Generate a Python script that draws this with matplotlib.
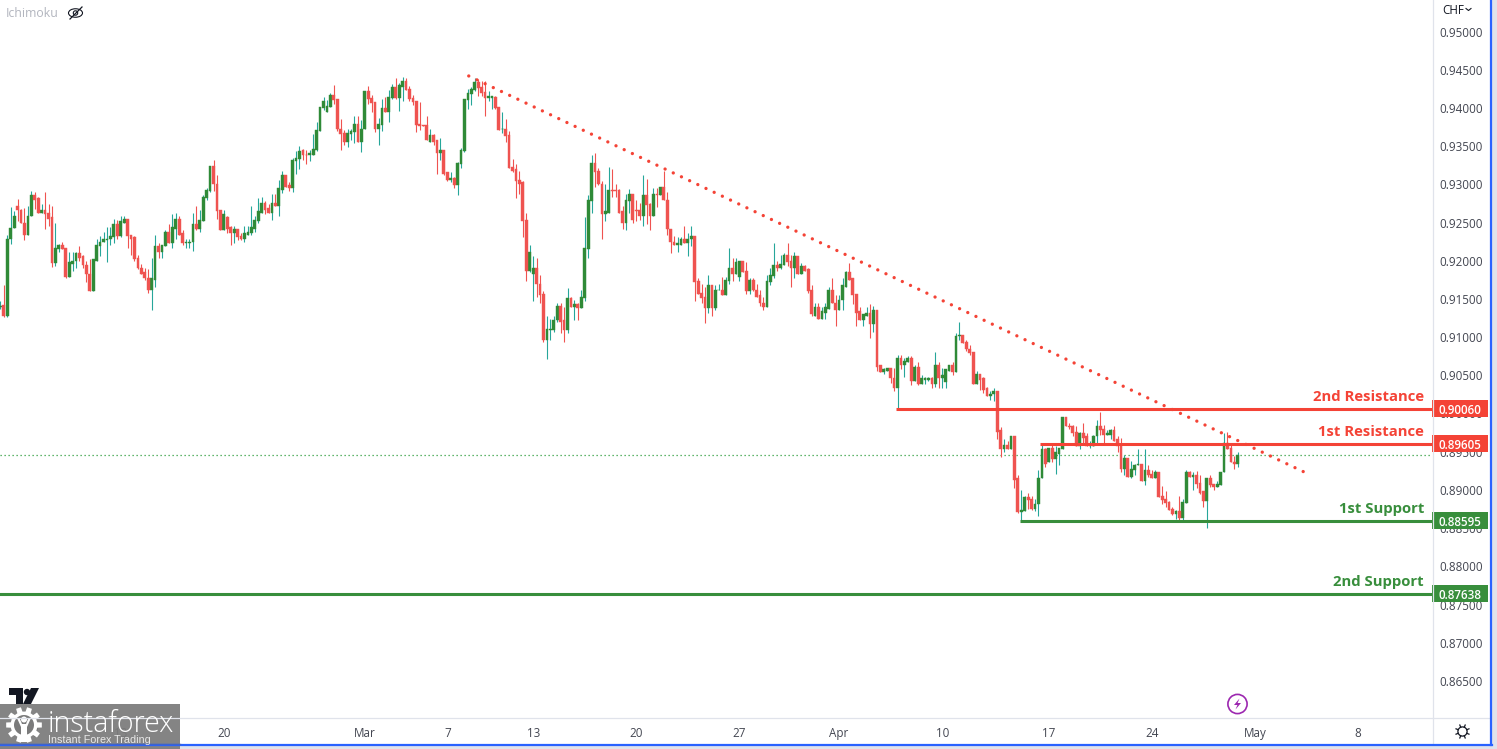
import numpy as np
import matplotlib
matplotlib.use("Agg")
import matplotlib.pyplot as plt
from matplotlib.patches import Circle, Polygon, Rectangle, Ellipse

# Candles in pips (price x 10000)
DIRECTION = ("GRGGGRRRGG" "RRGRRRGGRR" "GGGRRRRGGG" "GGGGRGGRRR" "RRRRGGRGGR" "GGRRGGGRGG" "GGRRRGRRGR" "RGGGGGGRRG"
             "RGGRRGGGRR" "GGGGGGGRRR" "RGGGRGGRRR" "GGRGGRGGRR" "RRRRRGRRGR" "RGRGGGGGGR" "RRGGRRGRRR" "RRRRGGRRRG"
             "GGGRRGRGRG" "GGGRRRGGRR" "RRGGRRRGRR" "GRGRRRRGGR" "GGRRRRGRGG" "RGGRGGRRGR" "RRRGGGRGGR" "RGRGRRRGRG"
             "GGRRGGGRRR" "RGGRGRRGGR" "RGRGGRGRGG" "GRGRGGGRGG" "RRRRGRRRGG" "RRGRGRRGGR" "RGGGRGRGGG" "RRRRGRRGGG"
             "RRGGRRRGRG" "GGRGRRGRRR" "RRGRGGRGRR" "RGRRGGGRRR" "G")
BODY_TOP = [9141,9142,9229,9243,9258,9271,9267,9250,9259,9286,
 9286,9282,9266,9266,9262,9257,9216,9221,9221,9216,
 9198,9200,9210,9210,9206,9195,9183,9202,9220,9225,
 9228,9229,9232,9248,9248,9252,9254,9254,9233,9231,
 9203,9191,9185,9178,9177,9219,9219,9220,9238,9238,
 9244,9254,9254,9236,9224,9225,9248,9248,9253,9283,
 9292,9324,9324,9301,9266,9261,9257,9244,9241,9241,
 9232,9236,9237,9244,9253,9265,9276,9276,9269,9275,
 9275,9295,9312,9312,9299,9332,9334,9343,9345,9339,
 9341,9346,9371,9401,9409,9402,9417,9417,9411,9373,
 9367,9367,9370,9379,9379,9373,9422,9422,9413,9408,
 9379,9400,9400,9414,9428,9428,9430,9435,9435,9425,
 9413,9409,9379,9377,9377,9364,9364,9358,9345,9345,
 9316,9308,9308,9328,9345,9411,9419,9425,9434,9434,
 9427,9421,9415,9415,9414,9401,9373,9373,9364,9322,
 9320,9305,9303,9253,9212,9191,9191,9170,9156,9110,
 9110,9123,9141,9141,9122,9151,9151,9143,9143,9152,
 9216,9279,9328,9328,9317,9301,9265,9292,9292,9292,
 9292,9265,9279,9287,9287,9267,9266,9286,9286,9274,
 9287,9287,9297,9297,9280,9242,9225,9223,9229,9229,
 9229,9232,9232,9173,9158,9152,9168,9168,9162,9162,
 9162,9175,9191,9191,9198,9199,9199,9186,9175,9175,
 9162,9155,9145,9173,9181,9194,9194,9196,9207,9207,
 9199,9206,9206,9193,9193,9189,9161,9139,9139,9134,
 9139,9161,9161,9145,9149,9168,9185,9185,9177,9156,
 9134,9130,9132,9132,9135,9135,9063,9058,9059,9059,
 9047,9073,9073,9069,9072,9072,9061,9061,9046,9047,
 9047,9047,9063,9063,9050,9058,9063,9063,9102,9103,
 9103,9093,9085,9080,9052,9052,9046,9033,9026,9030,
 9030,8978,8959,8959,8970,8970,8915,8874,8891,8891,
 8888,8882,8916,8954,8954,8955,8955,8949,8955,8995,
 8995,8984,8983,8976,8975,8975,8970,8959,8971,8983,
 8983,8980,8974,8978,8978,8966,8958,8942,8942,8928,
 8933,8934,8934,8926,8926,8921,8923,8923,8892,8888,
 8884,8875,8873,8873,8884,8924,8924,8920,8920,8909,
 8898,8915,8915,8908,8908,8924,8961,8961,8955,8937,8946]
BODY_BOTTOM = [9140,9127,9127,9228,9243,9266,9249,9234,9234,9259,
 9280,9263,9263,9261,9255,9197,9197,9215,9215,9179,
 9179,9196,9199,9204,9194,9182,9160,9160,9200,9219,
 9224,9227,9228,9231,9232,9232,9250,9232,9229,9202,
 9190,9183,9177,9162,9162,9175,9211,9211,9219,9223,
 9223,9242,9234,9223,9223,9223,9224,9241,9241,9252,
 9282,9291,9300,9265,9240,9240,9242,9236,9236,9231,
 9228,9228,9234,9236,9242,9252,9263,9267,9263,9263,
 9271,9271,9293,9297,9295,9295,9330,9333,9338,9338,
 9338,9339,9345,9370,9400,9394,9401,9410,9372,9366,
 9356,9356,9366,9368,9355,9355,9372,9411,9406,9373,
 9373,9377,9394,9394,9413,9413,9413,9428,9423,9411,
 9408,9377,9376,9376,9358,9356,9356,9341,9341,9314,
 9305,9305,9299,9299,9326,9343,9410,9418,9423,9426,
 9420,9413,9413,9413,9400,9371,9372,9363,9321,9318,
 9304,9301,9252,9186,9186,9182,9169,9155,9096,9096,
 9109,9109,9122,9120,9109,9109,9140,9140,9138,9138,
 9151,9215,9278,9316,9300,9261,9261,9263,9291,9291,
 9263,9250,9250,9278,9253,9265,9258,9258,9273,9259,
 9259,9286,9286,9279,9241,9224,9221,9221,9221,9223,
 9223,9228,9172,9157,9151,9138,9138,9138,9138,9161,
 9155,9155,9174,9183,9183,9179,9185,9160,9160,9161,
 9153,9144,9140,9140,9172,9180,9191,9191,9195,9198,
 9190,9190,9183,9183,9187,9160,9130,9128,9124,9124,
 9132,9137,9145,9136,9136,9148,9166,9175,9155,9132,
 9122,9122,9128,9117,9117,9061,9054,9054,9056,9046,
 9034,9034,9064,9064,9068,9043,9043,9039,9039,9044,
 9044,9038,9038,9047,9047,9041,9056,9054,9054,9101,
 9092,9084,9079,9039,9039,9044,9031,9023,9023,9025,
 8976,8953,8953,8953,8953,8913,8871,8871,8873,8887,
 8875,8875,8881,8915,8934,8937,8940,8940,8947,8954,
 8983,8982,8975,8958,8958,8968,8958,8958,8958,8970,
 8979,8972,8972,8972,8964,8957,8928,8928,8917,8917,
 8926,8932,8912,8912,8920,8916,8916,8891,8887,8883,
 8874,8869,8869,8863,8863,8883,8917,8917,8908,8896,
 8886,8886,8907,8904,8904,8907,8923,8954,8936,8934,8934]
WICK_HIGH = [9147,9168,9233,9270,9265,9281,9268,9269,9272,9291,
 9290,9283,9274,9290,9274,9272,9249,9222,9224,9217,
 9212,9212,9212,9219,9207,9199,9202,9202,9229,9232,
 9238,9244,9244,9255,9253,9259,9259,9254,9234,9232,
 9207,9196,9190,9189,9204,9234,9223,9221,9240,9248,
 9261,9262,9259,9240,9228,9228,9263,9272,9266,9286,
 9295,9324,9332,9312,9266,9267,9259,9245,9245,9241,
 9236,9245,9245,9272,9259,9282,9283,9278,9274,9287,
 9287,9305,9318,9312,9303,9335,9343,9350,9346,9345,
 9345,9366,9381,9401,9414,9410,9419,9430,9411,9385,
 9371,9372,9372,9389,9389,9384,9422,9429,9417,9408,
 9387,9411,9414,9423,9431,9439,9432,9440,9439,9429,
 9417,9409,9408,9377,9389,9373,9366,9358,9360,9345,
 9316,9316,9309,9329,9347,9411,9425,9427,9439,9438,
 9435,9435,9422,9415,9415,9401,9394,9385,9370,9333,
 9326,9317,9304,9262,9220,9206,9203,9181,9160,9127,
 9124,9127,9145,9144,9139,9164,9152,9148,9144,9161,
 9257,9286,9338,9341,9321,9304,9301,9322,9320,9300,
 9294,9271,9287,9294,9287,9279,9276,9312,9307,9275,
 9295,9295,9297,9317,9290,9242,9232,9231,9231,9245,
 9236,9246,9232,9177,9170,9166,9181,9168,9168,9169,
 9179,9179,9217,9203,9203,9199,9199,9198,9178,9177,
 9169,9161,9153,9181,9190,9223,9200,9208,9210,9223,
 9207,9212,9206,9197,9194,9190,9168,9145,9145,9140,
 9145,9165,9178,9155,9155,9177,9186,9197,9177,9157,
 9139,9130,9140,9143,9141,9135,9064,9059,9059,9060,
 9059,9076,9076,9072,9075,9075,9063,9067,9050,9048,
 9048,9048,9081,9068,9060,9058,9063,9068,9105,9120,
 9103,9096,9090,9080,9056,9052,9048,9035,9030,9034,
 9030,8982,8966,8964,8971,8971,8919,8900,8892,8896,
 8892,8888,8926,8959,8955,8955,8959,8957,8955,8996,
 8995,8987,8985,8984,8976,8987,8974,8964,8972,8992,
 9002,8985,8978,8980,8983,8971,8968,8946,8942,8938,
 8934,8953,8934,8954,8933,8926,8926,8923,8905,8899,
 8886,8878,8874,8892,8888,8926,8925,8923,8925,8919,
 8899,8916,8920,8908,8912,8924,8975,8976,8962,8944,8949]
WICK_LOW = [9137,9126,9126,9222,9243,9252,9249,9227,9234,9258,
 9268,9263,9262,9242,9246,9192,9193,9211,9215,9178,
 9179,9186,9190,9199,9190,9172,9160,9160,9200,9206,
 9224,9198,9221,9223,9229,9231,9250,9217,9207,9200,
 9189,9182,9175,9158,9136,9166,9203,9203,9219,9223,
 9216,9229,9234,9221,9217,9216,9213,9240,9237,9252,
 9279,9290,9291,9254,9240,9240,9236,9220,9223,9227,
 9227,9224,9234,9234,9237,9250,9263,9261,9262,9253,
 9271,9259,9288,9297,9291,9290,9314,9320,9332,9326,
 9330,9338,9343,9370,9397,9394,9401,9405,9370,9345,
 9352,9349,9358,9354,9355,9342,9372,9405,9394,9368,
 9351,9370,9394,9381,9411,9411,9396,9409,9423,9409,
 9404,9368,9371,9376,9358,9355,9351,9313,9332,9312,
 9304,9303,9295,9286,9321,9342,9398,9404,9422,9415,
 9415,9389,9409,9398,9398,9371,9367,9355,9321,9316,
 9282,9287,9231,9174,9185,9147,9152,9144,9093,9071,
 9096,9107,9120,9105,9094,9105,9139,9122,9123,9138,
 9147,9203,9262,9297,9299,9229,9252,9262,9284,9284,
 9263,9241,9240,9263,9249,9252,9253,9245,9248,9240,
 9258,9270,9286,9279,9233,9210,9221,9212,9221,9223,
 9206,9219,9147,9157,9145,9118,9131,9127,9136,9161,
 9155,9155,9169,9173,9182,9174,9185,9157,9156,9160,
 9152,9141,9136,9140,9168,9178,9186,9189,9195,9193,
 9165,9177,9182,9182,9186,9158,9128,9127,9124,9124,
 9124,9137,9145,9115,9136,9136,9166,9175,9143,9115,
 9122,9114,9128,9099,9107,9055,9054,9052,9055,9040,
 9029,9006,9058,9048,9067,9037,9042,9037,9038,9039,
 9043,9033,9035,9034,9034,9034,9055,9051,9054,9096,
 9092,9082,9077,9038,9038,9031,9027,9023,9018,9017,
 8966,8943,8949,8953,8953,8903,8870,8860,8873,8875,
 8874,8873,8866,8915,8930,8936,8936,8921,8932,8954,
 8983,8980,8970,8958,8954,8959,8958,8955,8958,8959,
 8972,8962,8972,8967,8964,8949,8923,8920,8917,8916,
 8919,8932,8912,8907,8917,8916,8916,8891,8882,8877,
 8874,8867,8862,8861,8861,8883,8917,8900,8902,8895,
 8878,8850,8904,8900,8904,8907,8923,8954,8936,8928,8930]

# Time axis (candle number of each label)
TIME_TICKS = [11, 36, 66, 107, 131, 156, 186, 216, 245, 275, 306, 336, 366, 396]
TIME_LABELS = ["7", "13", "20", "Mar", "7", "13", "20", "27", "Apr", "10", "17", "24", "May", "8"]
PRICE_TICKS = [0.865, 0.87, 0.875, 0.88, 0.885, 0.89, 0.895, 0.90, 0.905, 0.91, 0.915, 0.92,
               0.925, 0.93, 0.935, 0.94, 0.945, 0.95]

# Drawn levels: price, first candle, label
LEVEL_PRICES = [0.90060, 0.89605, 0.88595, 0.87638]
LEVEL_STARTS = [261.7, 303.5, 297.6, 0]
LEVEL_NAMES = ["2nd Resistance", "1st Resistance", "1st Support", "2nd Support"]
LEVEL_LABEL_PRICES = [0.90125, 0.89672, 0.88655, 0.87705]
TREND_X = [137.25, 381.2]
TREND_Y = [0.94418, 0.89215]

RED = "#f44336"
GREEN = "#388e3c"
UP_BODY = "#2f8a37"
UP_WICK = "#26a69a"
DOWN = "#ef5350"
PANE = "#e0e3eb"
TEXT = "#434651"
FONT = "Open Sans"

W, H = 1497, 749
plt.rcParams["font.family"] = [FONT, "DejaVu Sans"]
fig = plt.figure(figsize=(W / 100, H / 100), dpi=100, facecolor="white")

PANE_R, PANE_B = 1432, 717
PX_PER_PRICE = 7640
ax = fig.add_axes([0, (H - PANE_B) / H, PANE_R / W, PANE_B / H])
ax.set_xlim(0.876, 417.5)
ax.set_ylim(0.95 - 685.5 / PX_PER_PRICE, 0.95 + 31.5 / PX_PER_PRICE)
for s in ax.spines.values():
    s.set_visible(False)

top = np.array(BODY_TOP) / 1e4
bot = np.array(BODY_BOTTOM) / 1e4
hi = np.array(WICK_HIGH) / 1e4
lo = np.array(WICK_LOW) / 1e4
up = np.array([c == "G" for c in DIRECTION])
x = np.arange(1, len(top) + 1)
assert len(top) == len(bot) == len(hi) == len(lo) == len(up)

ax.vlines(x[up], lo[up], hi[up], color=UP_WICK, lw=0.8, zorder=2)
ax.vlines(x[~up], lo[~up], hi[~up], color=DOWN, lw=0.8, zorder=2)
ax.bar(x[up], (top - bot)[up], bottom=bot[up], width=0.8, color=UP_BODY, edgecolor=UP_BODY, lw=0.3, zorder=3)
ax.bar(x[~up], (top - bot)[~up], bottom=bot[~up], width=0.8, color=DOWN, edgecolor=DOWN, lw=0.3, zorder=3)

# last price
ax.axhline(top[-1], color="#2e9e3f", lw=0.9, ls=(0, (1, 2.2)), zorder=1)

# levels
cols = [RED, RED, GREEN, GREEN]
for p, st, name, c, lp in zip(LEVEL_PRICES, LEVEL_STARTS, LEVEL_NAMES, cols, LEVEL_LABEL_PRICES):
    ax.plot([st, 417.5], [p, p], color=c, lw=2.2, solid_capstyle="butt", zorder=5)
    ax.text(1424 / PANE_R, lp, name, transform=ax.get_yaxis_transform(), ha="right", va="bottom",
            color=c, fontsize=10.7, fontweight="bold", zorder=6)

# trend
ax.plot(TREND_X, TREND_Y, color=RED, lw=2.4, ls=(0, (0.01, 2.706)), dash_capstyle="round", zorder=6)

# price scale
ax.set_xticks(TIME_TICKS)
ax.set_xticklabels(TIME_LABELS)
ax.yaxis.tick_right()
ax.set_yticks(PRICE_TICKS)
ax.set_yticklabels([f"{v:.5f}" for v in PRICE_TICKS])
ax.tick_params(axis="y", length=0, pad=5.2, labelsize=8.4, labelcolor=TEXT)
ax.tick_params(axis="x", length=0, pad=7, labelsize=8.4, labelcolor=TEXT)

# tags on the price scale
sc = fig.add_axes([PANE_R / W, (H - PANE_B) / H, 56 / W, PANE_B / H], zorder=4)
sc.set_xlim(0, 1)
sc.set_ylim(ax.get_ylim())
sc.axis("off")
sc.patch.set_alpha(0)
sc.barh(LEVEL_PRICES, [1] * 4, height=17 / PX_PER_PRICE, left=0, color=cols)
for p in LEVEL_PRICES:
    sc.text(0.5, p, f"{p:.5f}", color="white", ha="center", va="center_baseline", fontsize=8.4, fontweight="semibold")

# frame and decoration in pixel coordinates
ov = fig.add_axes([0, 0, 1, 1], zorder=10)
ov.set_xlim(0, W)
ov.set_ylim(H, 0)
ov.axis("off")
ov.patch.set_alpha(0)
ov.plot([0, 1491], [717.5, 717.5], color=PANE, lw=0.9)
ov.plot([1432.5, 1432.5], [0, 745], color=PANE, lw=0.9)
ov.add_patch(Rectangle((1490, 0), 7, 749, color=PANE, lw=0))
ov.add_patch(Rectangle((0, 745.5), 1497, 4, color=PANE, lw=0))
ov.plot([1491, 1491], [0, 745], color="#2962ff", lw=1.6)
ov.plot([0, 1491.7], [744.8, 744.8], color="#2962ff", lw=1.6)

# header
ov.text(6, 13.5, "Ichimoku", color="#b2b5be", fontsize=8.8, va="center", ha="left")
ov.add_patch(Ellipse((75.5, 13), 14, 8.5, fill=False, ec="#131722", lw=0.8))
ov.add_patch(Circle((75.5, 13), 2.2, fill=False, ec="#131722", lw=0.8))
ov.plot([70, 82], [19, 7], color="#131722", lw=0.9)
ov.text(1442, 10, "CHF", color="#131722", fontsize=8.4, va="center", ha="left")
ov.plot([1466, 1468.5, 1471], [8.5, 10.5, 8.5], color="#131722", lw=0.8)

# settings icon
ov.add_patch(Circle((1462.5, 731.5), 4.6, fill=False, ec="#131722", lw=0.9))
for a in np.deg2rad(np.arange(0, 360, 45) + 22.5):
    ov.plot([1462.5 + 4.6 * np.cos(a), 1462.5 + 7 * np.cos(a)],
            [731.5 + 4.6 * np.sin(a), 731.5 + 7 * np.sin(a)], color="#131722", lw=0.9)

# lightning icon
ov.add_patch(Circle((1237.5, 704), 9.6, fill=False, ec="#9c27b0", lw=1.2))
ov.add_patch(Polygon([(1239.5, 698.5), (1234, 705), (1237.4, 705), (1235.5, 709.5), (1241, 703), (1237.6, 703)],
                     color="#9c27b0", lw=0))

# TradingView mark
ov.add_patch(Polygon([(9, 688), (23, 688), (23, 704), (16, 704), (16, 695), (9, 695)], color="#131722", lw=0))
ov.add_patch(Circle((27, 692), 3.2, color="#131722", lw=0))
ov.add_patch(Polygon([(31, 688), (39, 688), (31, 704), (23, 704)], color="#131722", lw=0))

# instaforex badge
ov.add_patch(Rectangle((0, 704), 180, 45, color="#7b7b7b", alpha=0.93, lw=0))
ov.plot([0, 180], [744, 744], color="#3f63c8", lw=1.0)
n = 10
gear = []
for k in range(n):
    c0 = 2 * np.pi * k / n
    for ang, r in [(-0.2, 13.5), (-0.14, 18), (0.14, 18), (0.2, 13.5)]:
        gear.append((24 + r * np.cos(c0 + ang), 725 + r * np.sin(c0 + ang)))
ov.add_patch(Polygon(gear, color="white", lw=0))
ov.add_patch(Circle((24, 725), 10, color="#7b7b7b", lw=0))
ov.add_patch(Circle((24, 719.5), 3, color="white", lw=0))
ov.add_patch(Polygon([(17, 718), (19.5, 718), (22, 724), (26, 724), (28.5, 718), (31, 718), (27, 727),
                      (27, 742), (21, 742), (21, 727)], color="white", lw=0))
ov.text(48, 724, "instaforex", color="white", fontsize=20.6, va="center", ha="left", fontweight="light")
ov.text(48, 740, "Instant Forex Trading", color="#e8e8e8", fontsize=7.75, va="center", ha="left",
        family=["Liberation Sans", "DejaVu Sans"])

fig.savefig("out.png", dpi=100, facecolor="white")
